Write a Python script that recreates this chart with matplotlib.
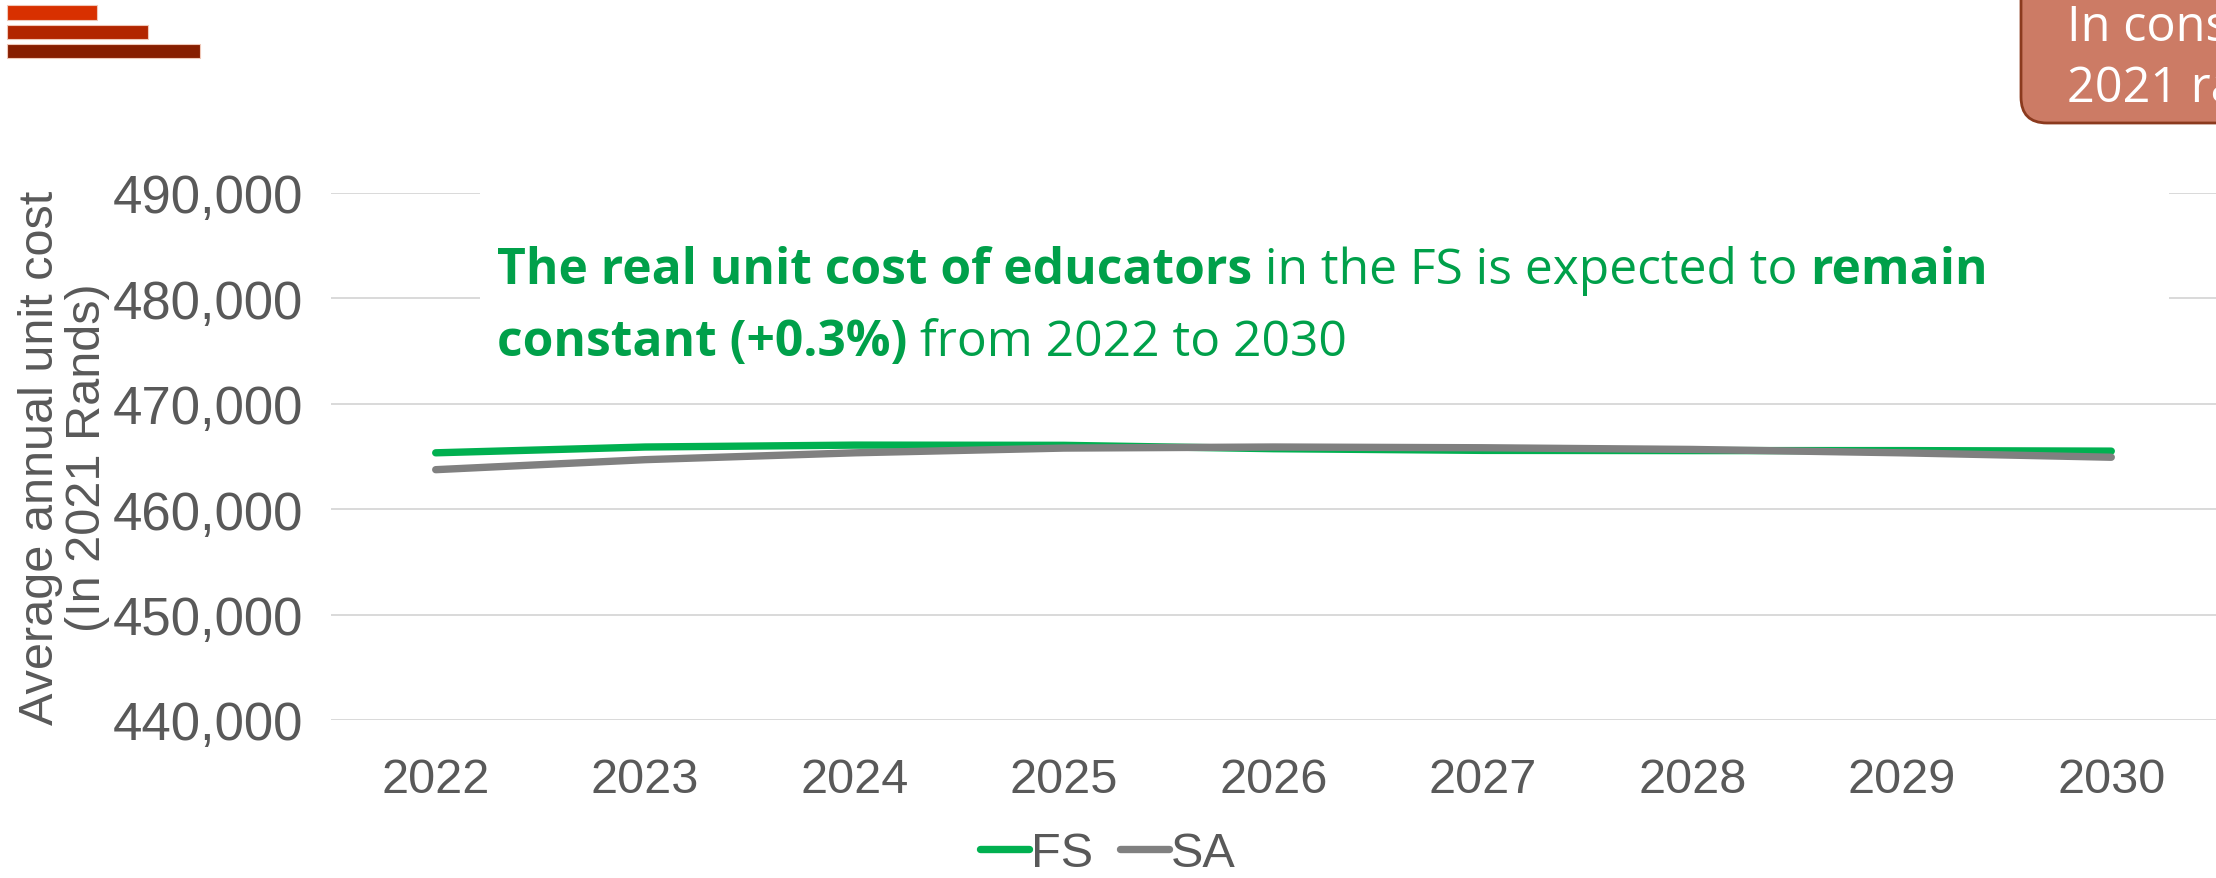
import matplotlib
matplotlib.use("Agg")
import matplotlib.pyplot as plt
from matplotlib.patches import Rectangle, FancyBboxPatch
from matplotlib.transforms import IdentityTransform
from matplotlib.ticker import FuncFormatter

# ---- data -------------------------------------------------------------
years = ["2022", "2023", "2024", "2025", "2026", "2027", "2028", "2029", "2030"]
fs_cost = [465350, 465900, 466080, 466060, 465740, 465580, 465560, 465560, 465510]
sa_cost = [463750, 464700, 465350, 465800, 465900, 465830, 465670, 465350, 464930]
y_ticks = [440000, 450000, 460000, 470000, 480000, 490000]

GREEN = "#00b050"
GREY = "#808080"
TEXT_GREEN = "#00a04a"
LABEL_GREY = "#595959"

W, H = 2216, 879
fig = plt.figure(figsize=(W / 100, H / 100), dpi=100)
fig.patch.set_facecolor("white")

# ---- main axes ----------------------------------------------------------
ax_left, ax_right, ax_top, ax_bottom = 331, 2216, 194, 721
ax = fig.add_axes([ax_left / W, (H - ax_bottom) / H,
                   (ax_right - ax_left) / W, (ax_bottom - ax_top) / H])
x = list(range(len(years)))
ax.plot(x, fs_cost, color=GREEN, lw=5.3, solid_capstyle="round", zorder=3, label="FS")
ax.plot(x, sa_cost, color=GREY, lw=5.3, solid_capstyle="round", zorder=4, label="SA")

ax.set_xlim(-0.5, len(years) - 0.5)
ax.set_ylim(y_ticks[0], y_ticks[-1])
ax.set_xticks(x)
ax.set_xticklabels(years)
ax.set_yticks(y_ticks)
ax.yaxis.set_major_formatter(FuncFormatter(lambda v, p: f"{int(v):,}"))
for lab in ax.get_xticklabels():
    lab.set_family("Liberation Sans")
    lab.set_fontsize(35)
    lab.set_color(LABEL_GREY)
for lab in ax.get_yticklabels():
    lab.set_family("Liberation Sans")
    lab.set_fontsize(38)
    lab.set_color(LABEL_GREY)
ax.tick_params(axis="both", length=0)
ax.tick_params(axis="x", pad=27)
ax.tick_params(axis="y", pad=20)
ax.grid(axis="y", color="#d9d9d9", lw=1.4, zorder=0)
for s in ax.spines.values():
    s.set_visible(False)
ax.set_facecolor("none")

ax.set_ylabel("Average annual unit cost\n(In 2021 Rands)", family="Liberation Sans",
              fontsize=35, color=LABEL_GREY, linespacing=1.05, labelpad=2)

# ---- white panel behind the headline ------------------------------------
fig.add_artist(Rectangle((480, H - 370), 2169 - 480, 370 - 165, transform=IdentityTransform(),
                         facecolor="white", edgecolor="none", zorder=2))

# ---- headline with mixed weights ---------------------------------------
fig.canvas.draw()
renderer = fig.canvas.get_renderer()


def draw_runs(x0, y0, runs, size):
    xpos = x0
    for s, weight in runs:
        t = fig.text(xpos, y0, s, transform=IdentityTransform(), family="Open Sans",
                     fontsize=size, fontweight=weight, color=TEXT_GREEN, va="baseline",
                     ha="left", zorder=5)
        bb = t.get_window_extent(renderer)
        xpos = bb.x1


headline_size = 35.8
draw_runs(497, H - 284, [("The real unit cost of educators", "bold"),
                          (" in the FS is expected to ", "normal"),
                          ("remain", "bold")], headline_size)
draw_runs(497, H - 356, [("constant (+0.3%)", "bold"),
                          (" from 2022 to 2030", "normal")], headline_size)

# ---- top-left decorative bars ------------------------------------------
for (x0, y0, x1, y1), c in zip([(7, 6, 97, 21), (7, 26, 148, 40), (7, 45, 200, 59)],
                               ["#d83000", "#b22600", "#871e00"]):
    fig.add_artist(Rectangle((x0, H - y1), x1 - x0, y1 - y0, transform=IdentityTransform(),
                             facecolor=c, edgecolor="#f0c8b8", lw=0.8, zorder=6))

# ---- top-right note box ------------------------------------------------
fig.add_artist(FancyBboxPatch((2021, H - 124), 400, 200, transform=IdentityTransform(),
                              boxstyle="round,pad=0,rounding_size=26",
                              facecolor="#cc7b65", edgecolor="#8b3a1e", lw=2, zorder=6))
fig.text(2067, H - 41, "In constant", transform=IdentityTransform(), family="Open Sans",
         fontsize=35, color="white", va="baseline", ha="left", zorder=7)
fig.text(2067, H - 102, "2021 rands", transform=IdentityTransform(), family="Open Sans",
         fontsize=35, color="white", va="baseline", ha="left", zorder=7)

# ---- legend --------------------------------------------------------------
handles, labels = ax.get_legend_handles_labels()
leg = fig.legend(handles, labels, loc="center", bbox_to_anchor=(0.5, 24 / H), ncol=2,
                 frameon=False, handlelength=1.0, handletextpad=0.05, columnspacing=0.55,
                 prop={"family": "Liberation Sans", "size": 35})
for t in leg.get_texts():
    t.set_color(LABEL_GREY)

fig.savefig("out.png", dpi=100, facecolor="white")
